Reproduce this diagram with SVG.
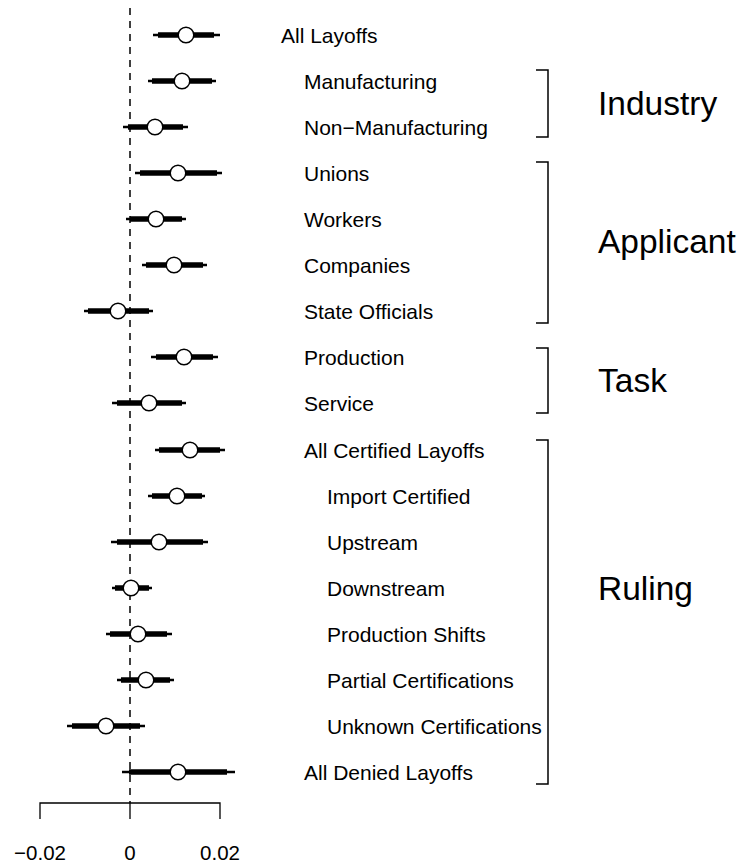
<svg xmlns="http://www.w3.org/2000/svg" width="739" height="867" viewBox="0 0 739 867">
<style>
text{font-family:"Liberation Sans",Arial,sans-serif;fill:#000}
.lab{font-size:21px}
.grp{font-size:33.5px}
.tick{font-size:20.5px;text-anchor:middle}
.thin{stroke:#000;stroke-width:2.5;stroke-linecap:butt}
.thick{stroke:#000;stroke-width:5.5;stroke-linecap:butt}
.pt{fill:#fff;stroke:#000;stroke-width:1.5}
.br{fill:none;stroke:#000;stroke-width:1.5}
.ax{fill:none;stroke:#000;stroke-width:1.3}
</style>
<rect width="739" height="867" fill="#fff"/>
<line x1="130" y1="8" x2="130" y2="803" stroke="#000" stroke-width="1.5" stroke-dasharray="7,6"/>
<g id="axis">
<path class="ax" d="M40,819V803H220V819M130,803V819"/>
<text class="tick" x="40" y="860">−0.02</text>
<text class="tick" x="130" y="860">0</text>
<text class="tick" x="220" y="860">0.02</text>
</g>
<g id="r0"><line class="thin" x1="153" y1="35" x2="220" y2="35"/><line class="thick" x1="158" y1="35" x2="214" y2="35"/><circle class="pt" cx="186" cy="35" r="7.8"/><text class="lab" x="281" y="42.5">All Layoffs</text></g>
<g id="r1"><line class="thin" x1="148" y1="81" x2="216" y2="81"/><line class="thick" x1="152" y1="81" x2="212" y2="81"/><circle class="pt" cx="182" cy="81" r="7.8"/><text class="lab" x="304" y="88.5">Manufacturing</text></g>
<g id="r2"><line class="thin" x1="123" y1="127" x2="188" y2="127"/><line class="thick" x1="128" y1="127" x2="183" y2="127"/><circle class="pt" cx="155" cy="127" r="7.8"/><text class="lab" x="304" y="134.5">Non−Manufacturing</text></g>
<g id="r3"><line class="thin" x1="135" y1="173" x2="222" y2="173"/><line class="thick" x1="140" y1="173" x2="217" y2="173"/><circle class="pt" cx="178" cy="173" r="7.8"/><text class="lab" x="304" y="180.5">Unions</text></g>
<g id="r4"><line class="thin" x1="126" y1="219" x2="186" y2="219"/><line class="thick" x1="130" y1="219" x2="182" y2="219"/><circle class="pt" cx="156" cy="219" r="7.8"/><text class="lab" x="304" y="226.5">Workers</text></g>
<g id="r5"><line class="thin" x1="142" y1="265" x2="207" y2="265"/><line class="thick" x1="146" y1="265" x2="203" y2="265"/><circle class="pt" cx="174" cy="265" r="7.8"/><text class="lab" x="304" y="272.5">Companies</text></g>
<g id="r6"><line class="thin" x1="84" y1="311" x2="153" y2="311"/><line class="thick" x1="88" y1="311" x2="149" y2="311"/><circle class="pt" cx="118" cy="311" r="7.8"/><text class="lab" x="304" y="318.5">State Officials</text></g>
<g id="r7"><line class="thin" x1="151" y1="357" x2="218" y2="357"/><line class="thick" x1="156" y1="357" x2="213" y2="357"/><circle class="pt" cx="184" cy="357" r="7.8"/><text class="lab" x="304" y="364.5">Production</text></g>
<g id="r8"><line class="thin" x1="112" y1="403" x2="186" y2="403"/><line class="thick" x1="117" y1="403" x2="182" y2="403"/><circle class="pt" cx="149" cy="403" r="7.8"/><text class="lab" x="304" y="410.5">Service</text></g>
<g id="r9"><line class="thin" x1="155" y1="450" x2="225" y2="450"/><line class="thick" x1="159" y1="450" x2="220" y2="450"/><circle class="pt" cx="190" cy="450" r="7.8"/><text class="lab" x="304" y="457.5">All Certified Layoffs</text></g>
<g id="r10"><line class="thin" x1="148" y1="496" x2="205" y2="496"/><line class="thick" x1="152" y1="496" x2="202" y2="496"/><circle class="pt" cx="177" cy="496" r="7.8"/><text class="lab" x="327" y="503.5">Import Certified</text></g>
<g id="r11"><line class="thin" x1="111" y1="542" x2="208" y2="542"/><line class="thick" x1="117" y1="542" x2="203" y2="542"/><circle class="pt" cx="159" cy="542" r="7.8"/><text class="lab" x="327" y="549.5">Upstream</text></g>
<g id="r12"><line class="thin" x1="112" y1="588" x2="152" y2="588"/><line class="thick" x1="115" y1="588" x2="149" y2="588"/><circle class="pt" cx="131" cy="588" r="7.8"/><text class="lab" x="327" y="595.5">Downstream</text></g>
<g id="r13"><line class="thin" x1="106" y1="634" x2="172" y2="634"/><line class="thick" x1="110" y1="634" x2="167" y2="634"/><circle class="pt" cx="138" cy="634" r="7.8"/><text class="lab" x="327" y="641.5">Production Shifts</text></g>
<g id="r14"><line class="thin" x1="117" y1="680" x2="174" y2="680"/><line class="thick" x1="121" y1="680" x2="170" y2="680"/><circle class="pt" cx="146" cy="680" r="7.8"/><text class="lab" x="327" y="687.5">Partial Certifications</text></g>
<g id="r15"><line class="thin" x1="67" y1="726" x2="145" y2="726"/><line class="thick" x1="72" y1="726" x2="140" y2="726"/><circle class="pt" cx="106" cy="726" r="7.8"/><text class="lab" x="327" y="733.5">Unknown Certifications</text></g>
<g id="r16"><line class="thin" x1="122" y1="772" x2="235" y2="772"/><line class="thick" x1="129" y1="772" x2="227" y2="772"/><circle class="pt" cx="178" cy="772" r="7.8"/><text class="lab" x="304" y="779.5">All Denied Layoffs</text></g>
<g id="connectors">
<path class="br" d="M536,70H548V137H536"/>
<path class="br" d="M536,162H548V323H536"/>
<path class="br" d="M536,348H548V413H536"/>
<path class="br" d="M536,440H548V784H536"/>
</g>
<g id="g-industry"><text class="grp" x="598" y="115">Industry</text></g>
<g id="g-applicant"><text class="grp" x="598" y="253">Applicant</text></g>
<g id="g-task"><text class="grp" x="598" y="392">Task</text></g>
<g id="g-ruling"><text class="grp" x="598" y="600">Ruling</text></g>
</svg>
